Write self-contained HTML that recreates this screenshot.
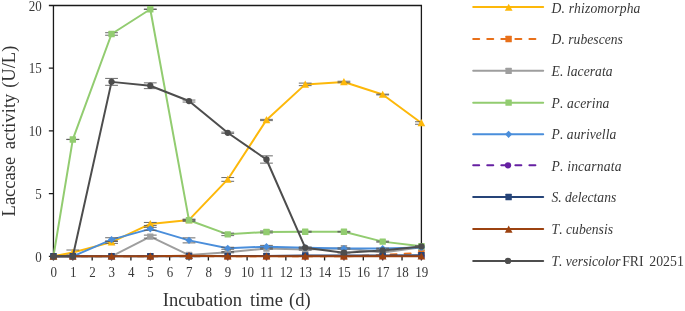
<!DOCTYPE html>
<html><head><meta charset="utf-8"><title>Laccase activity</title>
<style>html,body{margin:0;padding:0;background:#fff;width:685px;height:311px;overflow:hidden}body{position:relative;font-family:"Liberation Serif",serif}</style>
</head><body>
<svg width="685" height="311" viewBox="0 0 685 311" style="position:absolute;left:0;top:0;font-family:'Liberation Serif',serif;font-kerning:none;will-change:transform">
<rect width="685" height="311" fill="#fff"/>
<path d="M53.45 5.50V256.3M53.45 256.3H421.40M53.45 5.50H421.40V256.3M48.85 256.30H53.45M48.85 193.60H53.45M48.85 130.90H53.45M48.85 68.20H53.45M48.85 5.50H53.45M53.45 256.3V260.5M72.82 256.3V260.5M92.18 256.3V260.5M111.55 256.3V260.5M130.91 256.3V260.5M150.28 256.3V260.5M169.64 256.3V260.5M189.01 256.3V260.5M208.38 256.3V260.5M227.74 256.3V260.5M247.11 256.3V260.5M266.47 256.3V260.5M285.84 256.3V260.5M305.21 256.3V260.5M324.57 256.3V260.5M343.94 256.3V260.5M363.30 256.3V260.5M382.67 256.3V260.5M402.03 256.3V260.5M421.40 256.3V260.5" stroke="#1a1a1a" stroke-width="1.3" fill="none"/>
<polyline points="53.45,256.30 72.82,252.54 111.55,242.13 150.28,223.95 189.01,219.93 227.74,179.43 266.47,119.99 305.21,84.38 343.94,81.99 382.67,94.53 421.40,123.00" fill="none" stroke="#FDB80A" stroke-width="2.0" stroke-linejoin="round" stroke-linecap="round"/>
<path d="M72.82 250.03V255.05M66.42 250.03H79.22M66.42 255.05H79.22" stroke="#5a5a5a" stroke-width="0.9" fill="none"/>
<path d="M111.55 240.88V243.38M105.15 240.88H117.95M105.15 243.38H117.95" stroke="#5a5a5a" stroke-width="0.9" fill="none"/>
<path d="M150.28 222.44V225.45M143.88 222.44H156.68M143.88 225.45H156.68" stroke="#5a5a5a" stroke-width="0.9" fill="none"/>
<path d="M189.01 219.31V220.56M182.61 219.31H195.41M182.61 220.56H195.41" stroke="#5a5a5a" stroke-width="0.9" fill="none"/>
<path d="M227.74 177.55V181.31M221.34 177.55H234.14M221.34 181.31H234.14" stroke="#5a5a5a" stroke-width="0.9" fill="none"/>
<path d="M266.47 119.36V120.62M260.07 119.36H272.87M260.07 120.62H272.87" stroke="#5a5a5a" stroke-width="0.9" fill="none"/>
<path d="M305.21 83.12V85.63M298.81 83.12H311.61M298.81 85.63H311.61" stroke="#5a5a5a" stroke-width="0.9" fill="none"/>
<path d="M343.94 81.24V82.75M337.54 81.24H350.34M337.54 82.75H350.34" stroke="#5a5a5a" stroke-width="0.9" fill="none"/>
<path d="M382.67 94.16V94.91M376.27 94.16H389.07M376.27 94.91H389.07" stroke="#5a5a5a" stroke-width="0.9" fill="none"/>
<path d="M421.40 121.75V124.25M415.00 121.75H421.40M415.00 124.25H421.40" stroke="#5a5a5a" stroke-width="0.9" fill="none"/>
<polygon points="53.45,252.40 57.30,259.60 49.60,259.60" fill="#FDB80A"/>
<polygon points="72.82,248.64 76.67,255.84 68.97,255.84" fill="#FDB80A"/>
<polygon points="111.55,238.23 115.40,245.43 107.70,245.43" fill="#FDB80A"/>
<polygon points="150.28,220.05 154.13,227.25 146.43,227.25" fill="#FDB80A"/>
<polygon points="189.01,216.03 192.86,223.23 185.16,223.23" fill="#FDB80A"/>
<polygon points="227.74,175.53 231.59,182.73 223.89,182.73" fill="#FDB80A"/>
<polygon points="266.47,116.09 270.32,123.29 262.62,123.29" fill="#FDB80A"/>
<polygon points="305.21,80.48 309.06,87.68 301.36,87.68" fill="#FDB80A"/>
<polygon points="343.94,78.09 347.79,85.29 340.09,85.29" fill="#FDB80A"/>
<polygon points="382.67,90.63 386.52,97.83 378.82,97.83" fill="#FDB80A"/>
<polygon points="421.40,119.10 425.25,126.30 417.55,126.30" fill="#FDB80A"/>
<polyline points="53.45,256.30 72.82,256.30 111.55,256.30 150.28,256.30 189.01,256.30 227.74,256.30 266.47,256.30 305.21,256.30 343.94,256.30 382.67,254.92 421.40,252.91" fill="none" stroke="#E8701A" stroke-width="2.0" stroke-linejoin="round" stroke-linecap="round" stroke-dasharray="6 8.05"/>
<rect x="50.25" y="253.10" width="6.4" height="6.4" rx="0.5" fill="#E8701A"/>
<rect x="69.62" y="253.10" width="6.4" height="6.4" rx="0.5" fill="#E8701A"/>
<rect x="108.35" y="253.10" width="6.4" height="6.4" rx="0.5" fill="#E8701A"/>
<rect x="147.08" y="253.10" width="6.4" height="6.4" rx="0.5" fill="#E8701A"/>
<rect x="185.81" y="253.10" width="6.4" height="6.4" rx="0.5" fill="#E8701A"/>
<rect x="224.54" y="253.10" width="6.4" height="6.4" rx="0.5" fill="#E8701A"/>
<rect x="263.27" y="253.10" width="6.4" height="6.4" rx="0.5" fill="#E8701A"/>
<rect x="302.01" y="253.10" width="6.4" height="6.4" rx="0.5" fill="#E8701A"/>
<rect x="340.74" y="253.10" width="6.4" height="6.4" rx="0.5" fill="#E8701A"/>
<rect x="379.47" y="251.72" width="6.4" height="6.4" rx="0.5" fill="#E8701A"/>
<rect x="418.20" y="249.71" width="6.4" height="6.4" rx="0.5" fill="#E8701A"/>
<polyline points="53.45,256.30 72.82,256.30 111.55,256.30 150.28,236.61 189.01,255.05 227.74,252.16 266.47,248.53 305.21,249.53 343.94,248.15 382.67,252.54 421.40,247.27" fill="none" stroke="#9E9E9E" stroke-width="2.0" stroke-linejoin="round" stroke-linecap="round"/>
<path d="M150.28 235.11V238.12M143.88 235.11H156.68M143.88 238.12H156.68" stroke="#5a5a5a" stroke-width="0.9" fill="none"/>
<path d="M227.74 251.53V252.79M221.34 251.53H234.14M221.34 252.79H234.14" stroke="#5a5a5a" stroke-width="0.9" fill="none"/>
<path d="M266.47 247.90V249.15M260.07 247.90H272.87M260.07 249.15H272.87" stroke="#5a5a5a" stroke-width="0.9" fill="none"/>
<path d="M305.21 248.90V250.16M298.81 248.90H311.61M298.81 250.16H311.61" stroke="#5a5a5a" stroke-width="0.9" fill="none"/>
<rect x="50.25" y="253.10" width="6.4" height="6.4" rx="0.5" fill="#9E9E9E"/>
<rect x="69.62" y="253.10" width="6.4" height="6.4" rx="0.5" fill="#9E9E9E"/>
<rect x="108.35" y="253.10" width="6.4" height="6.4" rx="0.5" fill="#9E9E9E"/>
<rect x="147.08" y="233.41" width="6.4" height="6.4" rx="0.5" fill="#9E9E9E"/>
<rect x="185.81" y="251.85" width="6.4" height="6.4" rx="0.5" fill="#9E9E9E"/>
<rect x="224.54" y="248.96" width="6.4" height="6.4" rx="0.5" fill="#9E9E9E"/>
<rect x="263.27" y="245.33" width="6.4" height="6.4" rx="0.5" fill="#9E9E9E"/>
<rect x="302.01" y="246.33" width="6.4" height="6.4" rx="0.5" fill="#9E9E9E"/>
<rect x="340.74" y="244.95" width="6.4" height="6.4" rx="0.5" fill="#9E9E9E"/>
<rect x="379.47" y="249.34" width="6.4" height="6.4" rx="0.5" fill="#9E9E9E"/>
<rect x="418.20" y="244.07" width="6.4" height="6.4" rx="0.5" fill="#9E9E9E"/>
<polyline points="53.45,256.30 72.82,139.43 111.55,33.97 150.28,9.26 189.01,220.31 227.74,234.36 266.47,231.97 305.21,231.72 343.94,231.72 382.67,241.63 421.40,246.27" fill="none" stroke="#92CC70" stroke-width="2.0" stroke-linejoin="round" stroke-linecap="round"/>
<path d="M72.82 139.30V139.55M66.42 139.30H79.22M66.42 139.55H79.22" stroke="#5a5a5a" stroke-width="0.9" fill="none"/>
<path d="M111.55 32.71V35.22M105.15 32.71H117.95M105.15 35.22H117.95" stroke="#5a5a5a" stroke-width="0.9" fill="none"/>
<path d="M150.28 9.01V9.51M143.88 9.01H156.68M143.88 9.51H156.68" stroke="#5a5a5a" stroke-width="0.9" fill="none"/>
<path d="M189.01 219.31V221.31M182.61 219.31H195.41M182.61 221.31H195.41" stroke="#5a5a5a" stroke-width="0.9" fill="none"/>
<path d="M227.74 233.10V235.61M221.34 233.10H234.14M221.34 235.61H234.14" stroke="#5a5a5a" stroke-width="0.9" fill="none"/>
<path d="M266.47 230.97V232.98M260.07 230.97H272.87M260.07 232.98H272.87" stroke="#5a5a5a" stroke-width="0.9" fill="none"/>
<path d="M305.21 231.22V232.22M298.81 231.22H311.61M298.81 232.22H311.61" stroke="#5a5a5a" stroke-width="0.9" fill="none"/>
<path d="M343.94 231.35V232.10M337.54 231.35H350.34M337.54 232.10H350.34" stroke="#5a5a5a" stroke-width="0.9" fill="none"/>
<path d="M382.67 241.13V242.13M376.27 241.13H389.07M376.27 242.13H389.07" stroke="#5a5a5a" stroke-width="0.9" fill="none"/>
<path d="M421.40 245.89V246.64M415.00 245.89H421.40M415.00 246.64H421.40" stroke="#5a5a5a" stroke-width="0.9" fill="none"/>
<rect x="50.25" y="253.10" width="6.4" height="6.4" rx="0.5" fill="#92CC70"/>
<rect x="69.62" y="136.23" width="6.4" height="6.4" rx="0.5" fill="#92CC70"/>
<rect x="108.35" y="30.77" width="6.4" height="6.4" rx="0.5" fill="#92CC70"/>
<rect x="147.08" y="6.06" width="6.4" height="6.4" rx="0.5" fill="#92CC70"/>
<rect x="185.81" y="217.11" width="6.4" height="6.4" rx="0.5" fill="#92CC70"/>
<rect x="224.54" y="231.16" width="6.4" height="6.4" rx="0.5" fill="#92CC70"/>
<rect x="263.27" y="228.77" width="6.4" height="6.4" rx="0.5" fill="#92CC70"/>
<rect x="302.01" y="228.52" width="6.4" height="6.4" rx="0.5" fill="#92CC70"/>
<rect x="340.74" y="228.52" width="6.4" height="6.4" rx="0.5" fill="#92CC70"/>
<rect x="379.47" y="238.43" width="6.4" height="6.4" rx="0.5" fill="#92CC70"/>
<rect x="418.20" y="243.07" width="6.4" height="6.4" rx="0.5" fill="#92CC70"/>
<polyline points="53.45,256.30 72.82,256.30 111.55,239.62 150.28,228.84 189.01,240.37 227.74,248.27 266.47,246.64 305.21,247.77 343.94,248.53 382.67,248.53 421.40,247.40" fill="none" stroke="#4A8EDB" stroke-width="2.0" stroke-linejoin="round" stroke-linecap="round"/>
<path d="M111.55 237.74V241.50M105.15 237.74H117.95M105.15 241.50H117.95" stroke="#5a5a5a" stroke-width="0.9" fill="none"/>
<path d="M150.28 227.33V230.34M143.88 227.33H156.68M143.88 230.34H156.68" stroke="#5a5a5a" stroke-width="0.9" fill="none"/>
<path d="M189.01 237.87V242.88M182.61 237.87H195.41M182.61 242.88H195.41" stroke="#5a5a5a" stroke-width="0.9" fill="none"/>
<path d="M227.74 247.27V249.28M221.34 247.27H234.14M221.34 249.28H234.14" stroke="#5a5a5a" stroke-width="0.9" fill="none"/>
<path d="M266.47 245.39V247.90M260.07 245.39H272.87M260.07 247.90H272.87" stroke="#5a5a5a" stroke-width="0.9" fill="none"/>
<path d="M305.21 247.15V248.40M298.81 247.15H311.61M298.81 248.40H311.61" stroke="#5a5a5a" stroke-width="0.9" fill="none"/>
<path d="M343.94 247.90V249.15M337.54 247.90H350.34M337.54 249.15H350.34" stroke="#5a5a5a" stroke-width="0.9" fill="none"/>
<path d="M382.67 248.15V248.90M376.27 248.15H389.07M376.27 248.90H389.07" stroke="#5a5a5a" stroke-width="0.9" fill="none"/>
<path d="M421.40 247.02V247.77M415.00 247.02H421.40M415.00 247.77H421.40" stroke="#5a5a5a" stroke-width="0.9" fill="none"/>
<polygon points="53.45,252.70 57.05,256.30 53.45,259.90 49.85,256.30" fill="#4A8EDB"/>
<polygon points="72.82,252.70 76.42,256.30 72.82,259.90 69.22,256.30" fill="#4A8EDB"/>
<polygon points="111.55,236.02 115.15,239.62 111.55,243.22 107.95,239.62" fill="#4A8EDB"/>
<polygon points="150.28,225.24 153.88,228.84 150.28,232.44 146.68,228.84" fill="#4A8EDB"/>
<polygon points="189.01,236.77 192.61,240.37 189.01,243.97 185.41,240.37" fill="#4A8EDB"/>
<polygon points="227.74,244.67 231.34,248.27 227.74,251.87 224.14,248.27" fill="#4A8EDB"/>
<polygon points="266.47,243.04 270.07,246.64 266.47,250.24 262.87,246.64" fill="#4A8EDB"/>
<polygon points="305.21,244.17 308.81,247.77 305.21,251.37 301.61,247.77" fill="#4A8EDB"/>
<polygon points="343.94,244.93 347.54,248.53 343.94,252.13 340.34,248.53" fill="#4A8EDB"/>
<polygon points="382.67,244.93 386.27,248.53 382.67,252.13 379.07,248.53" fill="#4A8EDB"/>
<polygon points="421.40,243.80 425.00,247.40 421.40,251.00 417.80,247.40" fill="#4A8EDB"/>
<polyline points="53.45,256.30 72.82,256.30 111.55,256.30 150.28,256.30 189.01,255.80 227.74,256.30 266.47,256.30 305.21,256.30 343.94,256.30 382.67,256.30 421.40,256.30" fill="none" stroke="#6620A2" stroke-width="1.4" stroke-linejoin="round" stroke-linecap="round" stroke-dasharray="6 8.05"/>
<circle cx="53.45" cy="256.30" r="3.15" fill="#6620A2"/>
<circle cx="72.82" cy="256.30" r="3.15" fill="#6620A2"/>
<circle cx="111.55" cy="256.30" r="3.15" fill="#6620A2"/>
<circle cx="150.28" cy="256.30" r="3.15" fill="#6620A2"/>
<circle cx="189.01" cy="255.80" r="3.15" fill="#6620A2"/>
<circle cx="227.74" cy="256.30" r="3.15" fill="#6620A2"/>
<circle cx="266.47" cy="256.30" r="3.15" fill="#6620A2"/>
<circle cx="305.21" cy="256.30" r="3.15" fill="#6620A2"/>
<circle cx="343.94" cy="256.30" r="3.15" fill="#6620A2"/>
<circle cx="382.67" cy="256.30" r="3.15" fill="#6620A2"/>
<circle cx="421.40" cy="256.30" r="3.15" fill="#6620A2"/>
<polyline points="53.45,256.30 72.82,256.30 111.55,256.30 150.28,256.30 189.01,256.30 227.74,255.92 266.47,255.92 305.21,255.42 343.94,255.42 382.67,255.42 421.40,255.30" fill="none" stroke="#264478" stroke-width="2.0" stroke-linejoin="round" stroke-linecap="round"/>
<rect x="50.25" y="253.10" width="6.4" height="6.4" rx="0.5" fill="#264478"/>
<rect x="69.62" y="253.10" width="6.4" height="6.4" rx="0.5" fill="#264478"/>
<rect x="108.35" y="253.10" width="6.4" height="6.4" rx="0.5" fill="#264478"/>
<rect x="147.08" y="253.10" width="6.4" height="6.4" rx="0.5" fill="#264478"/>
<rect x="185.81" y="253.10" width="6.4" height="6.4" rx="0.5" fill="#264478"/>
<rect x="224.54" y="252.72" width="6.4" height="6.4" rx="0.5" fill="#264478"/>
<rect x="263.27" y="252.72" width="6.4" height="6.4" rx="0.5" fill="#264478"/>
<rect x="302.01" y="252.22" width="6.4" height="6.4" rx="0.5" fill="#264478"/>
<rect x="340.74" y="252.22" width="6.4" height="6.4" rx="0.5" fill="#264478"/>
<rect x="379.47" y="252.22" width="6.4" height="6.4" rx="0.5" fill="#264478"/>
<rect x="418.20" y="252.10" width="6.4" height="6.4" rx="0.5" fill="#264478"/>
<polyline points="53.45,256.30 72.82,256.30 111.55,256.30 150.28,256.30 189.01,255.80 227.74,256.30 266.47,256.30 305.21,256.30 343.94,256.30 382.67,256.30 421.40,256.30" fill="none" stroke="#9C4210" stroke-width="2.0" stroke-linejoin="round" stroke-linecap="round"/>
<polygon points="53.45,252.40 57.30,259.60 49.60,259.60" fill="#9C4210"/>
<polygon points="72.82,252.40 76.67,259.60 68.97,259.60" fill="#9C4210"/>
<polygon points="111.55,252.40 115.40,259.60 107.70,259.60" fill="#9C4210"/>
<polygon points="150.28,252.40 154.13,259.60 146.43,259.60" fill="#9C4210"/>
<polygon points="189.01,251.90 192.86,259.10 185.16,259.10" fill="#9C4210"/>
<polygon points="227.74,252.40 231.59,259.60 223.89,259.60" fill="#9C4210"/>
<polygon points="266.47,252.40 270.32,259.60 262.62,259.60" fill="#9C4210"/>
<polygon points="305.21,252.40 309.06,259.60 301.36,259.60" fill="#9C4210"/>
<polygon points="343.94,252.40 347.79,259.60 340.09,259.60" fill="#9C4210"/>
<polygon points="382.67,252.40 386.52,259.60 378.82,259.60" fill="#9C4210"/>
<polygon points="421.40,252.40 425.25,259.60 417.55,259.60" fill="#9C4210"/>
<polyline points="53.45,256.30 72.82,256.30 111.55,81.87 150.28,85.76 189.01,101.05 227.74,132.78 266.47,159.49 305.21,247.65 343.94,252.66 382.67,250.41 421.40,246.39" fill="none" stroke="#4d4d4d" stroke-width="2.0" stroke-linejoin="round" stroke-linecap="round"/>
<path d="M111.55 78.42V85.32M105.15 78.42H117.95M105.15 85.32H117.95" stroke="#5a5a5a" stroke-width="0.9" fill="none"/>
<path d="M150.28 82.87V88.64M143.88 82.87H156.68M143.88 88.64H156.68" stroke="#5a5a5a" stroke-width="0.9" fill="none"/>
<path d="M189.01 100.05V102.06M182.61 100.05H195.41M182.61 102.06H195.41" stroke="#5a5a5a" stroke-width="0.9" fill="none"/>
<path d="M227.74 132.15V133.41M221.34 132.15H234.14M221.34 133.41H234.14" stroke="#5a5a5a" stroke-width="0.9" fill="none"/>
<path d="M266.47 155.85V163.13M260.07 155.85H272.87M260.07 163.13H272.87" stroke="#5a5a5a" stroke-width="0.9" fill="none"/>
<path d="M305.21 247.27V248.02M298.81 247.27H311.61M298.81 248.02H311.61" stroke="#5a5a5a" stroke-width="0.9" fill="none"/>
<path d="M343.94 252.29V253.04M337.54 252.29H350.34M337.54 253.04H350.34" stroke="#5a5a5a" stroke-width="0.9" fill="none"/>
<path d="M382.67 250.03V250.78M376.27 250.03H389.07M376.27 250.78H389.07" stroke="#5a5a5a" stroke-width="0.9" fill="none"/>
<path d="M421.40 246.02V246.77M415.00 246.02H421.40M415.00 246.77H421.40" stroke="#5a5a5a" stroke-width="0.9" fill="none"/>
<circle cx="53.45" cy="256.30" r="3.15" fill="#4d4d4d"/>
<circle cx="72.82" cy="256.30" r="3.15" fill="#4d4d4d"/>
<circle cx="111.55" cy="81.87" r="3.15" fill="#4d4d4d"/>
<circle cx="150.28" cy="85.76" r="3.15" fill="#4d4d4d"/>
<circle cx="189.01" cy="101.05" r="3.15" fill="#4d4d4d"/>
<circle cx="227.74" cy="132.78" r="3.15" fill="#4d4d4d"/>
<circle cx="266.47" cy="159.49" r="3.15" fill="#4d4d4d"/>
<circle cx="305.21" cy="247.65" r="3.15" fill="#4d4d4d"/>
<circle cx="343.94" cy="252.66" r="3.15" fill="#4d4d4d"/>
<circle cx="382.67" cy="250.41" r="3.15" fill="#4d4d4d"/>
<circle cx="421.40" cy="246.39" r="3.15" fill="#4d4d4d"/>
<text transform="translate(41.8,261.50) scale(1,1.11)" font-size="13" text-anchor="end" fill="#383838">0</text>
<text transform="translate(41.8,198.80) scale(1,1.11)" font-size="13" text-anchor="end" fill="#383838">5</text>
<text transform="translate(41.8,136.10) scale(1,1.11)" font-size="13" text-anchor="end" fill="#383838">10</text>
<text transform="translate(41.8,73.40) scale(1,1.11)" font-size="13" text-anchor="end" fill="#383838">15</text>
<text transform="translate(41.8,10.70) scale(1,1.11)" font-size="13" text-anchor="end" fill="#383838">20</text>
<text transform="translate(53.75,277.1) scale(1,1.11)" font-size="13" text-anchor="middle" fill="#383838">0</text>
<text transform="translate(73.12,277.1) scale(1,1.11)" font-size="13" text-anchor="middle" fill="#383838">1</text>
<text transform="translate(92.48,277.1) scale(1,1.11)" font-size="13" text-anchor="middle" fill="#383838">2</text>
<text transform="translate(111.85,277.1) scale(1,1.11)" font-size="13" text-anchor="middle" fill="#383838">3</text>
<text transform="translate(131.21,277.1) scale(1,1.11)" font-size="13" text-anchor="middle" fill="#383838">4</text>
<text transform="translate(150.58,277.1) scale(1,1.11)" font-size="13" text-anchor="middle" fill="#383838">5</text>
<text transform="translate(169.94,277.1) scale(1,1.11)" font-size="13" text-anchor="middle" fill="#383838">6</text>
<text transform="translate(189.31,277.1) scale(1,1.11)" font-size="13" text-anchor="middle" fill="#383838">7</text>
<text transform="translate(208.68,277.1) scale(1,1.11)" font-size="13" text-anchor="middle" fill="#383838">8</text>
<text transform="translate(228.04,277.1) scale(1,1.11)" font-size="13" text-anchor="middle" fill="#383838">9</text>
<text transform="translate(247.41,277.1) scale(1,1.11)" font-size="13" text-anchor="middle" fill="#383838">10</text>
<text transform="translate(266.77,277.1) scale(1,1.11)" font-size="13" text-anchor="middle" fill="#383838">11</text>
<text transform="translate(286.14,277.1) scale(1,1.11)" font-size="13" text-anchor="middle" fill="#383838">12</text>
<text transform="translate(305.51,277.1) scale(1,1.11)" font-size="13" text-anchor="middle" fill="#383838">13</text>
<text transform="translate(324.87,277.1) scale(1,1.11)" font-size="13" text-anchor="middle" fill="#383838">14</text>
<text transform="translate(344.24,277.1) scale(1,1.11)" font-size="13" text-anchor="middle" fill="#383838">15</text>
<text transform="translate(363.60,277.1) scale(1,1.11)" font-size="13" text-anchor="middle" fill="#383838">16</text>
<text transform="translate(382.97,277.1) scale(1,1.11)" font-size="13" text-anchor="middle" fill="#383838">17</text>
<text transform="translate(402.33,277.1) scale(1,1.11)" font-size="13" text-anchor="middle" fill="#383838">18</text>
<text transform="translate(421.70,277.1) scale(1,1.11)" font-size="13" text-anchor="middle" fill="#383838">19</text>
<text x="162.8" y="305.9" font-size="18.5" fill="#333333">Incubation</text>
<text x="250.0" y="305.9" font-size="18.5" fill="#333333">time</text>
<text x="289.0" y="305.9" font-size="18.5" fill="#333333">(d)</text>
<g transform="translate(15.4,0) rotate(-90)" font-size="18.5" fill="#333333"><text x="-216.4" y="0">Laccase</text><text x="-149.2" y="0">activity</text><text x="-87.8" y="0">(U/L)</text></g>
<path d="M473.2 6.95H543.2" stroke="#FDB80A" stroke-width="2.0" stroke-linecap="round" fill="none"/>
<polygon points="508.70,3.65 512.55,10.85 504.85,10.85" fill="#FDB80A"/>
<text x="551.6" y="12.70" font-size="13.6" font-style="italic" letter-spacing="0.15" fill="#383838">D. rhizomorpha</text>
<path d="M473.2 39.00H536.5" stroke="#E8701A" stroke-width="2.0" stroke-linecap="round" fill="none" stroke-dasharray="6 8.05"/>
<rect x="505.40" y="35.80" width="6.4" height="6.4" rx="0.5" fill="#E8701A"/>
<text x="551.6" y="44.33" font-size="13.6" font-style="italic" letter-spacing="0.03" fill="#383838">D. rubescens</text>
<path d="M473.2 70.85H543.2" stroke="#9E9E9E" stroke-width="2.0" stroke-linecap="round" fill="none"/>
<rect x="505.40" y="67.65" width="6.4" height="6.4" rx="0.5" fill="#9E9E9E"/>
<text x="551.6" y="75.96" font-size="13.6" font-style="italic" letter-spacing="0.06" fill="#383838">E. lacerata</text>
<path d="M473.2 102.65H543.2" stroke="#92CC70" stroke-width="2.0" stroke-linecap="round" fill="none"/>
<rect x="505.40" y="99.45" width="6.4" height="6.4" rx="0.5" fill="#92CC70"/>
<text x="551.6" y="107.59" font-size="13.6" font-style="italic" letter-spacing="0.13" fill="#383838">P. acerina</text>
<path d="M473.2 134.30H543.2" stroke="#4A8EDB" stroke-width="2.0" stroke-linecap="round" fill="none"/>
<polygon points="508.60,130.70 512.20,134.30 508.60,137.90 505.00,134.30" fill="#4A8EDB"/>
<text x="551.6" y="139.22" font-size="13.6" font-style="italic" letter-spacing="0.05" fill="#383838">P. aurivella</text>
<path d="M473.2 165.30H536.5" stroke="#6620A2" stroke-width="2.0" stroke-linecap="round" fill="none" stroke-dasharray="6 8.05"/>
<circle cx="508.00" cy="165.30" r="3.15" fill="#6620A2"/>
<text x="551.6" y="170.85" font-size="13.6" font-style="italic" letter-spacing="0.17" fill="#383838">P. incarnata</text>
<path d="M473.2 197.00H543.2" stroke="#264478" stroke-width="2.0" stroke-linecap="round" fill="none"/>
<rect x="505.40" y="193.80" width="6.4" height="6.4" rx="0.5" fill="#264478"/>
<text x="551.6" y="202.48" font-size="13.6" font-style="italic" letter-spacing="-0.03" fill="#383838">S. delectans</text>
<path d="M473.2 228.90H543.2" stroke="#9C4210" stroke-width="2.0" stroke-linecap="round" fill="none"/>
<polygon points="508.70,225.60 512.55,232.80 504.85,232.80" fill="#9C4210"/>
<text x="551.6" y="234.11" font-size="13.6" font-style="italic" letter-spacing="0.02" fill="#383838">T. cubensis</text>
<path d="M473.2 260.90H543.2" stroke="#4d4d4d" stroke-width="2.0" stroke-linecap="round" fill="none"/>
<circle cx="508.00" cy="260.90" r="3.15" fill="#4d4d4d"/>
<text x="551.6" y="265.74" font-size="13.6" font-style="italic" letter-spacing="-0.05" fill="#383838">T. versicolor</text>
<text x="622.2" y="265.74" font-size="13.8" letter-spacing="0" fill="#383838">FRI</text>
<text x="649.3" y="265.74" font-size="13.8" letter-spacing="0" fill="#383838">20251</text>
</svg>
</body></html>
